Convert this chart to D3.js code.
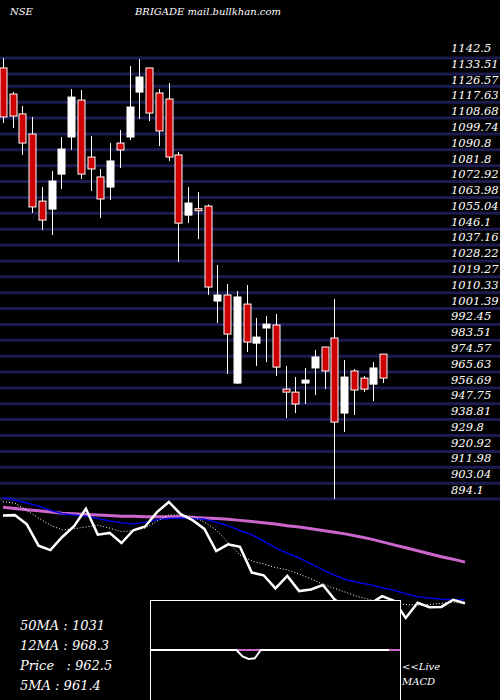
<!DOCTYPE html>
<html>
<head>
<meta charset="utf-8">
<script src="https://cdn.jsdelivr.net/npm/d3@7"></script>
<style>
body { margin: 0; background: #000; }
text { font-family: "DejaVu Serif", "Liberation Serif", serif; font-style: italic; fill: #fff; }
</style>
</head>
<body>
<script>
// candles
var opens  = [1136.9,1122.2,1111.0,1099.7,1061.9,1057.4,1077.1,1098.0,1118.8,1086.7,1075.5,1069.8,1094.6,1098.0,1123.3,1136.9,1122.8,1119.4,1087.9,1054.0,1057.6,1059.1,1005.6,1009.0,959.4,1003.9,981.9,990.4,992.1,956.0,954.3,959.4,967.9,979.7,984.8,942.5,966.2,962.2,958.8,975.7];
var highs  = [1142.5,1123.3,1115.5,1109.3,1069.8,1078.8,1098.0,1125.0,1124.5,1098.6,1080.0,1094.6,1101.9,1138.0,1141.9,1136.9,1125.0,1128.4,1089.5,1069.8,1067.0,1060.0,1025.9,1015.2,1011.2,1014.6,996.0,997.1,998.3,969.0,962.8,967.9,978.0,979.7,1006.7,972.4,967.3,963.4,971.2,975.7];
var lows   = [1105.9,1103.1,1087.9,1055.2,1045.6,1042.8,1068.7,1090.7,1074.3,1067.6,1052.4,1062.5,1080.5,1096.3,1108.1,1107.0,1092.9,1084.5,1027.6,1049.5,1040.5,1009.0,993.2,964.5,958.8,976.9,969.0,971.2,963.3,939.7,942.5,947.6,952.6,956.0,894.1,931.8,941.4,954.3,949.3,959.4];
var closes = [1109.3,1109.8,1094.6,1058.6,1051.2,1073.2,1091.2,1120.5,1077.1,1080.0,1063.1,1084.5,1090.7,1114.9,1131.8,1111.5,1101.4,1086.7,1049.5,1060.8,1056.8,1013.5,1009.0,987.0,1007.9,982.5,985.3,992.6,968.4,954.3,947.6,961.1,974.1,966.2,937.4,962.8,955.5,956.0,967.9,962.2];

// moving averages
var ma50 = [1123,1121,1119,1117,1115,1113,1112,1111,1110,1109,1108,1108,1107,1107,1107,1107,1106,1105,1104,1103,1101,1099,1097,1095,1092,1090,1087,1084,1081,1078,1074,1070,1065,1060,1055,1050,1045,1040,1036,1031];
var ma12 = [1140,1135,1130,1125,1118,1112,1110,1108,1104,1100,1097,1095,1098,1102,1104,1105,1104,1103,1098,1092,1084,1077,1066,1055,1046,1038,1028,1018,1009,1001,997,993,988,984,978,973,971,969,968,968];
var ma5  = [1132,1130,1118,1105,1093,1085,1087,1090,1093,1088,1082,1084,1088,1100,1110,1110,1108,1098,1085,1064,1043,1033,1028,1022,1018,1011,1003,994,987,980,973,968,964,961,960,959,960,962,964,961];
var macd = [0,0,0,0,0,0,0,0,0,0,0,0,0,0,0,-1,-1.4,-1.3,0,0,0,0,0,0,0,0,0,0,0,0,0,0,0,0,0,0,0,0,0,0];

var tickLabels = ['1142.5','1133.51','1126.57','1117.63','1108.68','1099.74','1090.8','1081.8','1072.92','1063.98','1055.04','1046.1','1037.16','1028.22','1019.27','1010.33','1001.39','992.45','983.51','974.57','965.63','956.69','947.75','938.81','929.8','920.92','911.98','903.04','894.1'];
var infoLabels = ['50MA : 1031', '12MA : 968.3', 'Price   : 962.5', '5MA : 961.4'];

var width = 500, height = 700;
var svg = d3.select('body').append('svg').attr('width', width).attr('height', height)
    .style('background', '#000');

var x = d3.scaleLinear().domain([0, 39]).range([3, 383]);
var y = d3.scaleLinear().domain([894.1, 1142.5]).range([499, 58]);
var yLab = d3.scaleLinear().domain([0, tickLabels.length - 1]).range([52, 494]);

// grid lines + price labels
tickLabels.forEach(function(t, i) {
    var yy = i === 0 ? 58 : y(+t);
    svg.append('line')
        .attr('x1', 0).attr('x2', width).attr('y1', yy).attr('y2', yy)
        .attr('stroke', '#1c1c50').attr('stroke-width', 3);
});
tickLabels.forEach(function(t, i) {
    svg.append('text')
        .attr('x', 451).attr('y', yLab(i))
        .attr('font-size', 11.5).text(t);
});

svg.append('text').attr('x', 10).attr('y', 15).attr('font-size', 10).text('NSE');
svg.append('text').attr('x', 135).attr('y', 15).attr('font-size', 10).text('BRIGADE mail.bullkhan.com');

// candles
closes.forEach(function(c, i) {
    var o = opens[i], up = c >= o;
    var cx = Math.round(x(i)) + 0.5;
    svg.append('line')
        .attr('x1', cx).attr('x2', cx).attr('y1', y(highs[i])).attr('y2', y(lows[i]))
        .attr('stroke', '#fff').attr('stroke-width', 1);
    var top = y(Math.max(o, c)), bot = y(Math.min(o, c));
    svg.append('rect')
        .attr('x', cx - 3.5).attr('y', top)
        .attr('width', 7).attr('height', Math.max(bot - top, 2))
        .attr('fill', up ? '#fff' : '#cc0000')
        .attr('stroke', '#fff').attr('stroke-width', 1);
});

// lower panel
var x2 = d3.scaleLinear().domain([0, 39]).range([3, 465]);
var y2 = d3.scaleLinear().domain([937.4, 1131.8]).range([618, 502]);
var line = function(arr) {
    return d3.line().x(function(d, i) { return x2(i); }).y(function(d) { return y2(d); })(arr);
};
svg.append('path').attr('d', line(ma50)).attr('fill', 'none').attr('stroke', '#cc66cc').attr('stroke-width', 3);
svg.append('path').attr('d', line(ma12)).attr('fill', 'none').attr('stroke', '#0000dd').attr('stroke-width', 1.5);
svg.append('path').attr('d', line(ma5)).attr('fill', 'none').attr('stroke', '#fff').attr('stroke-width', 1).attr('stroke-dasharray', '1,2');
svg.append('path').attr('d', line(closes)).attr('fill', 'none').attr('stroke', '#fff').attr('stroke-width', 2.5);

// macd box
svg.append('rect').attr('x', 150.5).attr('y', 600.5).attr('width', 250).attr('height', 110)
    .attr('fill', '#000').attr('stroke', '#fff').attr('stroke-width', 1);
var x3 = d3.scaleLinear().domain([0, 39]).range([151, 389]);
var y3 = d3.scaleLinear().domain([-1.4, 0]).range([659, 650]);
svg.append('line').attr('x1', x3(0)).attr('x2', 400).attr('y1', 650).attr('y2', 650)
    .attr('stroke', '#cc66cc').attr('stroke-width', 2);
svg.append('path')
    .attr('d', d3.line().x(function(d, i) { return x3(i); }).y(function(d) { return y3(d); })(macd))
    .attr('fill', 'none').attr('stroke', '#fff').attr('stroke-width', 2);

svg.append('text').attr('x', 402).attr('y', 670).attr('font-size', 10).text('<<Live');
svg.append('text').attr('x', 402).attr('y', 685).attr('font-size', 10).text('MACD');

infoLabels.forEach(function(t, i) {
    svg.append('text').attr('x', 20).attr('y', 630 + i * 20).attr('font-size', 13)
        .attr('xml:space', 'preserve').style('white-space', 'pre').text(t);
});
</script>
</body>
</html>
